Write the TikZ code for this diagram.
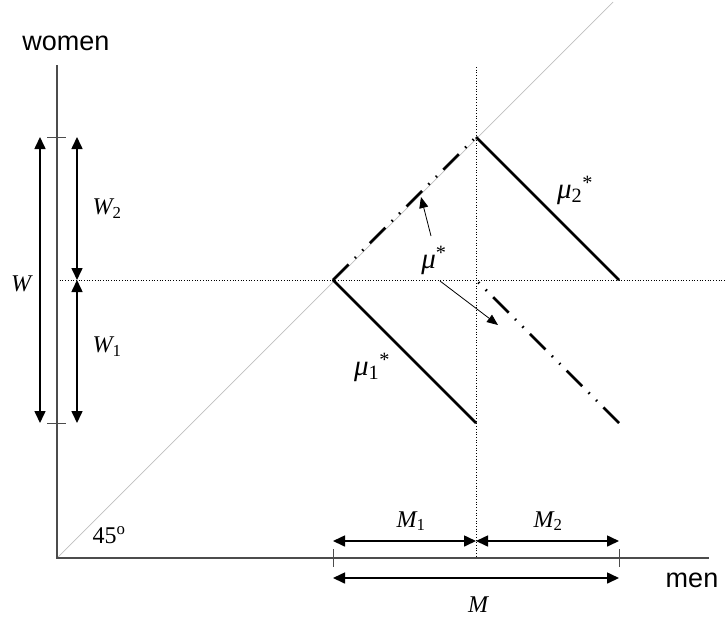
\documentclass[tikz,border=0pt]{standalone}
\usepackage{fontspec}
\setmainfont{Liberation Serif}
\newfontfamily\arialf{Liberation Sans}
\usetikzlibrary{arrows.meta}
\newcommand{\usub}[1]{\textsubscript{\upshape #1}}
\newcommand{\usup}[1]{\textsuperscript{\upshape #1}}
\tikzset{
  axisline/.style={draw=black!70, line width=1.3pt},
  guide/.style={draw=black, line width=0.7pt, dotted},
  diagline/.style={draw=black!25, line width=0.7pt},
  curve/.style={draw=black, line width=2.8pt},
  dashdd/.style={draw=black, line width=2.8pt, dash pattern=on 22pt off 9pt on 1.5pt off 9pt on 1.5pt off 9pt},
  dimarrow/.style={draw=black, line width=1.6pt, {Triangle[length=12pt,width=11pt]}-{Triangle[length=12pt,width=11pt]}},
  thinarrow/.style={draw=black, line width=0.8pt, -{Triangle[length=11pt,width=9pt]}},
  tickmark/.style={draw=black!70, line width=1pt},
  lab/.style={font=\fontsize{24}{26}\selectfont\itshape, inner sep=0pt},
  mulab/.style={font=\fontsize{29}{31}\selectfont\itshape, inner sep=0pt},
  wordlab/.style={font=\arialf\fontsize{27}{29}\selectfont, inner sep=0pt}
}
\begin{document}
\begin{tikzpicture}[x=1pt,y=-1pt]
\useasboundingbox (0,0) rectangle (725,619);
% coordinates
\coordinate (O) at (57,558);
\coordinate (Ytop) at (57,65);
\coordinate (Xend) at (709,558);
\coordinate (Dend) at (613,2);
\coordinate (A) at (333,280);
\coordinate (B) at (476,137);
\coordinate (C) at (619,280);
\coordinate (D) at (476,423);
\coordinate (E) at (476,280);
\coordinate (F) at (619,423);
\coordinate (Hl) at (57,280);
\coordinate (Hr) at (725,280);
\coordinate (Vt) at (476,67);
\coordinate (Vb) at (476,558);
% diagonal and guides
\draw[diagline] (O) -- (Dend);
\draw[guide] (Hl) -- (Hr);
\draw[guide] (Vt) -- (Vb);
% axes
\draw[axisline] (Ytop) -- (O) -- (Xend);
% ticks
\coordinate (t1a) at (47,137); \coordinate (t1b) at (66,137);
\coordinate (t2a) at (47,423); \coordinate (t2b) at (66,423);
\coordinate (t3a) at (333,549); \coordinate (t3b) at (333,567);
\coordinate (t4a) at (619,549); \coordinate (t4b) at (619,567);
\draw[tickmark] (t1a) -- (t1b);
\draw[tickmark] (t2a) -- (t2b);
\draw[tickmark] (t3a) -- (t3b);
\draw[tickmark] (t4a) -- (t4b);
% main lines
\draw[curve] (B) -- (C);
\draw[curve] (A) -- (D);
\draw[dashdd] (A) -- (B);
\draw[dashdd] (F) -- (E);
% vertical dimension arrows
\coordinate (Wt) at (40,137); \coordinate (Wb) at (40,423);
\coordinate (W2t) at (77,137); \coordinate (Wm) at (77,280); \coordinate (W1b) at (77,423);
\draw[dimarrow] (Wt) -- (Wb);
\draw[dimarrow] (W2t) -- (Wm);
\draw[dimarrow] (Wm) -- (W1b);
% horizontal dimension arrows
\coordinate (M1l) at (333,541); \coordinate (Mm) at (476,541); \coordinate (M2r) at (619,541);
\coordinate (Ml) at (333,578); \coordinate (Mr) at (619,578);
\draw[dimarrow] (M1l) -- (Mm);
\draw[dimarrow] (Mm) -- (M2r);
\draw[dimarrow] (Ml) -- (Mr);
% labels
\node[wordlab] (women) at (66,43) {women};
\node[wordlab] (men) at (692,580) {men};
\node[lab] (W) at (21,284) {W};
\node[lab] (W2) at (107,209) {W\usub{2}};
\node[lab] (W1) at (107,347) {W\usub{1}};
\node[lab] (M1) at (411,521) {M\usub{1}};
\node[lab] (M2) at (548,521) {M\usub{2}};
\node[lab] (M) at (478,605) {M};
\node[lab, font=\fontsize{24}{26}\selectfont] (deg) at (109,535) {45\textsuperscript{o}};
\node[mulab] (mustar) at (434,260) {μ\usup{*}};
\node[mulab] (mu2) at (575,190) {μ\usub{2}\usup{*}};
\node[mulab] (mu1) at (372,367) {μ\usub{1}\usup{*}};
% mu* arrows
\coordinate (a1s) at (431,236); \coordinate (a1e) at (421,197);
\coordinate (a2s) at (440,281); \coordinate (a2e) at (498,325);
\draw[thinarrow] (a1s) -- (a1e);
\draw[thinarrow] (a2s) -- (a2e);
\end{tikzpicture}
\end{document}
